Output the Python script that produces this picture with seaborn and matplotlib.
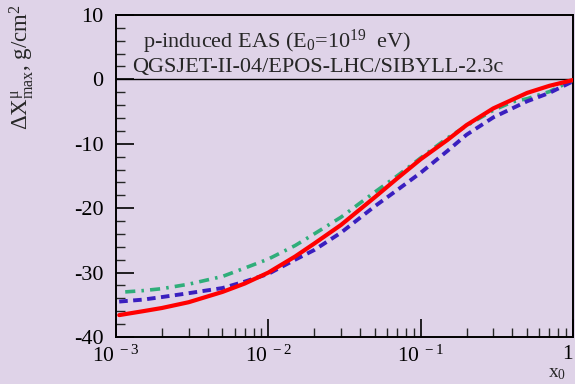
import numpy as np
import pandas as pd
import seaborn as sns
import matplotlib.pyplot as plt
import matplotlib.ticker as mticker

# x0 grid (log-spaced points)
x_red = [0.00105, 0.0015, 0.002, 0.003, 0.005, 0.007, 0.01, 0.015, 0.02, 0.03,
         0.05, 0.07, 0.1, 0.15, 0.2, 0.3, 0.5, 0.7, 1.0]
y_red = [-36.6, -36.0, -35.5, -34.6, -33.0, -31.7, -30.0, -27.5, -25.5, -22.6,
         -18.3, -15.4, -12.4, -9.4, -7.1, -4.5, -2.1, -1.0, -0.1]

x_blue = [0.00105, 0.0015, 0.002, 0.003, 0.005, 0.007, 0.01, 0.015, 0.02, 0.03,
          0.05, 0.07, 0.1, 0.15, 0.2, 0.3, 0.5, 0.7, 1.0]
y_blue = [-34.5, -34.2, -33.8, -33.2, -32.4, -31.4, -30.2, -28.0, -26.5, -23.8,
          -19.7, -17.2, -14.5, -11.1, -8.6, -5.9, -3.4, -2.1, -0.3]

x_green = [0.00115, 0.0015, 0.002, 0.003, 0.005, 0.007, 0.01, 0.015, 0.02, 0.03,
           0.05, 0.07, 0.1, 0.15, 0.2, 0.3, 0.4, 0.5, 0.7, 1.0]
y_green = [-33.0, -32.8, -32.5, -31.8, -30.6, -29.3, -27.9, -25.8, -24.0, -21.4,
           -17.5, -15.0, -12.2, -9.1, -7.2, -4.8, -3.5, -3.0, -1.9, -0.1]

y_ticks = [10, 0, -10, -20, -30, -40]
x_ticks = [1e-3, 1e-2, 1e-1, 1]
x_tick_labels = [r'$10^{\ -3}$', r'$10^{\ -2}$', r'$10^{\ -1}$', '1']

bg = '#dfd3e8'

sns.set_style('ticks')
plt.rcParams['font.family'] = ['Liberation Serif', 'DejaVu Serif']
plt.rcParams['mathtext.fontset'] = 'custom'
plt.rcParams['mathtext.rm'] = 'Liberation Serif'
plt.rcParams['mathtext.it'] = 'Liberation Serif:italic'
plt.rcParams['mathtext.default'] = 'rm'
plt.rcParams['axes.unicode_minus'] = False

fig = plt.figure(figsize=(5.75, 3.84), dpi=100, facecolor=bg)
ax = fig.add_axes([0.2017, 0.1224, 0.7948, 0.8386])
ax.set_facecolor(bg)

df_red = pd.DataFrame({'x': x_red, 'y': y_red})
df_blue = pd.DataFrame({'x': x_blue, 'y': y_blue})
df_green = pd.DataFrame({'x': x_green, 'y': y_green})

sns.lineplot(data=df_green, x='x', y='y', ax=ax, color='#2fae7a', linewidth=2.6,
             linestyle=(0, (2.8, 1.7, 0.7, 1.7)), zorder=3)
sns.lineplot(data=df_blue, x='x', y='y', ax=ax, color='#3a1fbf', linewidth=2.8,
             linestyle=(0, (2.2, 1.4)), zorder=3)
sns.lineplot(data=df_red, x='x', y='y', ax=ax, color='#ff0000', linewidth=3.0,
             zorder=4)

ax.axhline(0, color='black', linewidth=1.0, zorder=2)

ax.set_xscale('log')
ax.set_xlim(1e-3, 1)
ax.set_ylim(-40, 10)

ax.set_xticks(x_ticks)
ax.set_xticklabels(x_tick_labels)
ax.get_xticklabels()[-1].set_horizontalalignment('right')
ax.xaxis.set_minor_locator(mticker.LogLocator(base=10, subs=np.arange(2, 10)))
ax.xaxis.set_minor_formatter(mticker.NullFormatter())
ax.set_yticks(y_ticks)
ax.set_yticklabels([str(v) for v in y_ticks])
ax.yaxis.set_minor_locator(mticker.MultipleLocator(2))

ax.tick_params(axis='both', which='major', direction='in', length=13, width=1.2,
               colors='black', top=False, right=False)
ax.tick_params(axis='both', which='minor', direction='in', length=6.5, width=1.0,
               top=False, right=False)
ax.tick_params(axis='y', which='major', pad=9, labelsize=16)
ax.tick_params(axis='x', which='major', pad=6, labelsize=15.5)

for s in ax.spines.values():
    s.set_linewidth(1.4)
    s.set_color('black')

ax.set_xlabel('')
ax.set_ylabel('')

ax.text(0.059, 0.897, r'p-induced EAS (E$_0$=10$^{19}$  eV)', transform=ax.transAxes,
        fontsize=16, ha='left', va='baseline')
ax.text(0.035, 0.823, 'QGSJET-II-04/EPOS-LHC/SIBYLL-2.3c', transform=ax.transAxes,
        fontsize=16, ha='left', va='baseline')

fig.text(0.038, 0.99, r'$\Delta$X$^{\mu}_{\rm max}$, g/cm$^{2}$', rotation=90,
         ha='center', va='top', fontsize=16.5)
fig.text(0.985, 0.004, r'x$_{0}$', ha='right', va='bottom', fontsize=14)

fig.savefig('out.png', dpi=100, facecolor=bg)
